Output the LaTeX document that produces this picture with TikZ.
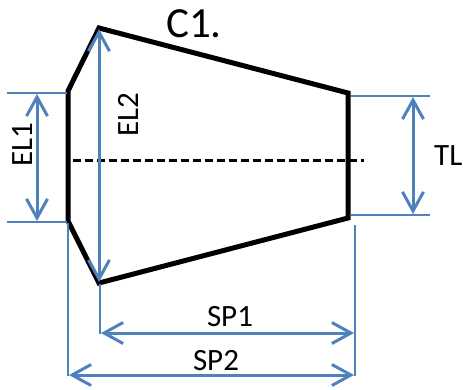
\documentclass[tikz,border=0pt]{standalone}
\usepackage{fontspec}
\setmainfont{Carlito}
\usetikzlibrary{arrows.meta}
\definecolor{dimblue}{RGB}{79,129,189}
\begin{document}
\begin{tikzpicture}[x=1pt,y=-1pt,
  body/.style={line width=5pt,line join=miter},
  axisline/.style={line width=3pt,dash pattern=on 8pt off 4pt},
  extline/.style={dimblue,line width=1.5pt},
  dimarrow/.style={dimblue,line width=3pt,{Straight Barb[length=19pt,width=21pt,line width=3pt]}-{Straight Barb[length=19pt,width=21pt,line width=3pt]}},
  lbl/.style={font=\fontsize{31}{31}\selectfont,inner sep=0pt},
]
\useasboundingbox (0,0) rectangle (463,389);
% body points
\coordinate (LT) at (68,91);
\coordinate (TA) at (99,28);
\coordinate (RT) at (348,93);
\coordinate (RB) at (348,218);
\coordinate (BA) at (99,283);
\coordinate (LB) at (68,221);
\draw[body] (LT) -- (TA) -- (RT) -- (RB) -- (BA) -- (LB) -- cycle;
% axis
\coordinate (AxL) at (73,160);
\coordinate (AxR) at (364,160);
\draw[axisline] (AxL) -- (AxR);
% extension lines
\coordinate (E1a) at (7,93);   \coordinate (E1b) at (67,93);
\coordinate (E1c) at (7,222);  \coordinate (E1d) at (67,222);
\coordinate (T1a) at (351,96); \coordinate (T1b) at (430,96);
\coordinate (T2a) at (351,215);\coordinate (T2b) at (430,215);
\coordinate (S1a) at (100,284);\coordinate (S1b) at (100,334);
\coordinate (S2a) at (68,223); \coordinate (S2b) at (68,376);
\coordinate (SRa) at (355,225);\coordinate (SRb) at (355,376);
\draw[extline] (E1a) -- (E1b);
\draw[extline] (E1c) -- (E1d);
\draw[extline] (T1a) -- (T1b);
\draw[extline] (T2a) -- (T2b);
\draw[extline] (S1a) -- (S1b);
\draw[extline] (S2a) -- (S2b);
\draw[extline] (SRa) -- (SRb);
% dimension arrows
\coordinate (EL1t) at (37,94);  \coordinate (EL1b) at (37,221);
\coordinate (EL2t) at (99,29);  \coordinate (EL2b) at (99,282);
\coordinate (TLt) at (413,97);  \coordinate (TLb) at (413,214);
\coordinate (SP1l) at (101,333);\coordinate (SP1r) at (354,333);
\coordinate (SP2l) at (69,375); \coordinate (SP2r) at (354,375);
\draw[dimarrow] (EL1t) -- (EL1b);
\draw[dimarrow] (EL2t) -- (EL2b);
\draw[dimarrow] (TLt) -- (TLb);
\draw[dimarrow] (SP1l) -- (SP1r);
\draw[dimarrow] (SP2l) -- (SP2r);
% labels
\node[font=\fontsize{43}{43}\selectfont,inner sep=0pt,anchor=base] (c1) at (194,37) {C1.};
\node[lbl,rotate=90,anchor=base] (el1) at (32,145) {EL1};
\node[lbl,rotate=90,anchor=base] (el2) at (138,115) {EL2};
\node[lbl,anchor=base west] (tl) at (434,165) {TL};
\node[lbl,anchor=base] (sp1) at (230,326) {SP1};
\node[lbl,anchor=base] (sp2) at (216,370) {SP2};
\end{tikzpicture}
\end{document}
